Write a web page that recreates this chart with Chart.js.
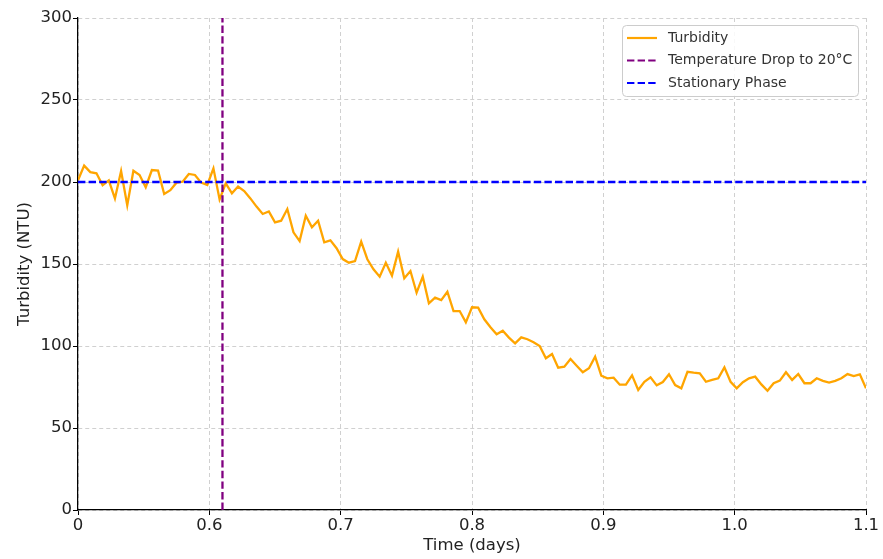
<!DOCTYPE html>
<html>
<head>
<meta charset="utf-8">
<script src="https://cdn.jsdelivr.net/npm/chart.js"></script>
<style>
  html, body { margin: 0; padding: 0; background: #fff; }
</style>
</head>
<body>
<canvas id="plot-turbidity" width="883" height="559"></canvas>
<script>
// sampling grid: 129 evenly spaced readings between day 0.5 and day 1.1
const startDay = 0.5;
const endDay = 1.1;
const turbidity = [
  201, 210, 206, 205.3, 198, 201, 190, 206.7, 185.8, 206.9,
  204.3, 196.8, 207.3, 207, 192.7, 195, 199.6, 200.2, 204.9, 204.3,
  199.6, 198.2, 208.3, 189.4, 199.2, 193.1, 197.2, 194.5, 190, 185,
  180.5, 182, 175.4, 176.4, 183.5, 169.3, 164, 179.5, 172.4, 176.4,
  163.2, 164.4, 159.6, 153, 150.8, 151.8, 163.6, 152.9, 146.8, 142.3,
  150.8, 142.9, 157.5, 141.3, 145.7, 132.5, 142.3, 126, 129.5, 128,
  133.1, 121.3, 121.3, 114.4, 123.6, 123.4, 116.3, 111.4, 107.1, 109.3,
  105.1, 101.6, 105.3, 104.1, 102.3, 100, 92.5, 95.1, 86.8, 87.4,
  92.1, 88, 84, 86.4, 93.5, 81.9, 80.3, 80.7, 76.4, 76.4,
  82.1, 73.2, 78.2, 80.9, 76, 78, 82.8, 76.2, 74.2, 84.3,
  83.7, 83.3, 78.2, 79.3, 80.3, 87, 78.2, 74.2, 77.9, 80.3,
  81.3, 76.6, 72.7, 77.3, 78.9, 84, 79.3, 82.9, 77.3, 77.3,
  80.3, 78.7, 77.7, 78.7, 80.3, 82.9, 81.7, 82.7, 74.2
];
const dropDay = 0.61;
const stationaryLevel = 200;
const yTicks = [0, 50, 100, 150, 200, 250, 300];
const seriesLabels = ["Turbidity", "Temperature Drop to 20°C", "Stationary Phase"];

const step = (endDay - startDay) / (turbidity.length - 1);
const times = turbidity.map((_, i) => startDay + i * step);

const FONT = "'DejaVu Sans', sans-serif";
const dash = [7.4, 3.2];

// legend drawn inside the plot, top right, like the original
const boxLegend = {
  id: "boxLegend",
  afterDraw(chart) {
    const ctx = chart.ctx;
    const area = chart.chartArea;
    const x0 = area.right - 244, y0 = area.top + 7, w = 236, h = 71;
    ctx.save();
    ctx.fillStyle = "rgba(255,255,255,0.85)";
    ctx.strokeStyle = "#cccccc";
    ctx.lineWidth = 1;
    ctx.beginPath();
    ctx.roundRect(x0 + 0.5, y0 + 0.5, w, h, 4);
    ctx.fill();
    ctx.stroke();
    ctx.font = "14px " + FONT;
    ctx.textBaseline = "middle";
    chart.data.datasets.forEach((ds, i) => {
      const y = y0 + 13 + i * 22.5;
      ctx.strokeStyle = ds.borderColor;
      ctx.lineWidth = 2.2;
      ctx.setLineDash(ds.borderDash || []);
      ctx.beginPath();
      ctx.moveTo(x0 + 5, y);
      ctx.lineTo(x0 + 35, y);
      ctx.stroke();
      ctx.setLineDash([]);
      ctx.fillStyle = "#333";
      ctx.fillText(ds.label, x0 + 46, y);
    });
    ctx.restore();
  }
};

new Chart("plot-turbidity", {
  type: "line",
  data: {
    datasets: [
      {
        label: seriesLabels[0],
        data: times.map((t, i) => ({ x: t, y: turbidity[i] })),
        borderColor: "#ffa500",
        borderWidth: 2.3,
        pointRadius: 0,
        order: 2
      },
      {
        label: seriesLabels[1],
        data: [{ x: dropDay, y: yTicks[0] }, { x: dropDay, y: yTicks[yTicks.length - 1] }],
        borderColor: "#800080",
        borderDash: dash,
        borderWidth: 2.3,
        pointRadius: 0,
        order: 1
      },
      {
        label: seriesLabels[2],
        data: [{ x: startDay, y: stationaryLevel }, { x: endDay, y: stationaryLevel }],
        borderColor: "#0000ff",
        borderDash: dash,
        borderWidth: 2.3,
        pointRadius: 0,
        order: 0
      }
    ]
  },
  options: {
    responsive: false,
    animation: false,
    layout: { padding: { top: 18, right: 17, left: 0, bottom: 0 } },
    plugins: { legend: { display: false }, tooltip: { enabled: false } },
    scales: {
      x: {
        type: "linear",
        min: startDay,
        max: endDay,
        afterFit: (s) => { s.height = 49; },
        ticks: {
          stepSize: 0.1,
          color: "#222",
          padding: 1,
          font: { family: FONT, size: 16.5 },
          callback: (v) => Math.abs(v - startDay) < 1e-9 ? "0" : v.toFixed(1)
        },
        grid: { color: "#d0d0d0", lineWidth: 1, tickLength: 5, tickColor: "#000", tickWidth: 1 },
        border: { display: true, color: "#000", width: 1.25, dash: [4, 3] },
        title: {
          display: true,
          text: "Time (days)",
          color: "#222",
          font: { family: FONT, size: 16.5 },
          padding: { top: 0, bottom: 3 }
        }
      },
      y: {
        min: yTicks[0],
        max: yTicks[yTicks.length - 1],
        afterFit: (s) => { s.width = 78; },
        afterBuildTicks: (s) => { s.ticks = yTicks.map((v) => ({ value: v })); },
        ticks: {
          color: "#222",
          padding: 1,
          font: { family: FONT, size: 16.5 }
        },
        grid: { color: "#d0d0d0", lineWidth: 1, tickLength: 5, tickColor: "#000", tickWidth: 1 },
        border: { display: true, color: "#000", width: 1.25, dash: [4, 3] },
        title: {
          display: true,
          text: "Turbidity (NTU)",
          color: "#222",
          font: { family: FONT, size: 16.5 },
          padding: { top: 15, bottom: 0 }
        }
      }
    }
  },
  plugins: [boxLegend]
});
</script>
</body>
</html>
